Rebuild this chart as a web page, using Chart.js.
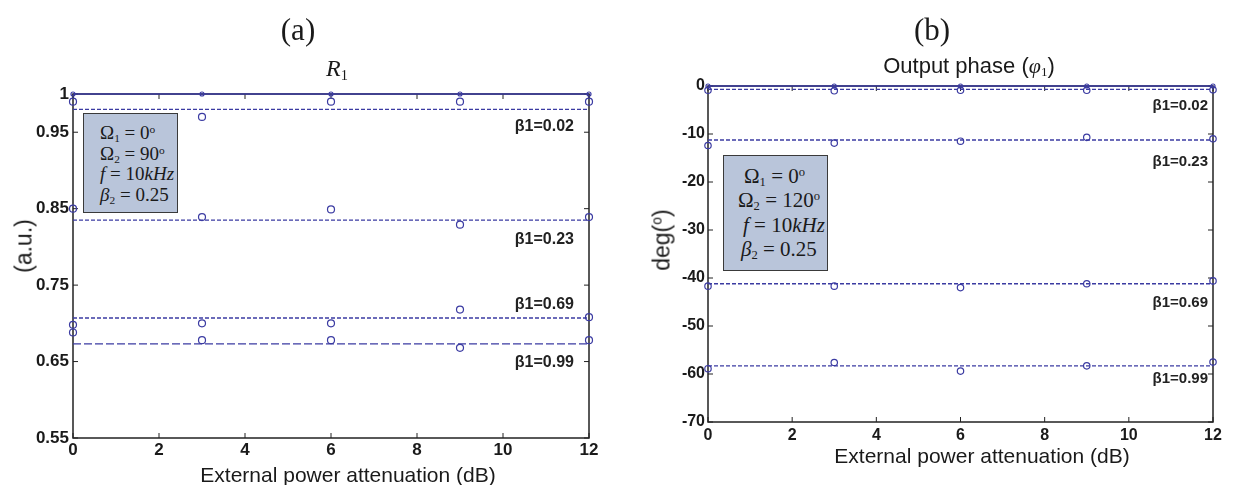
<!DOCTYPE html>
<html>
<head>
<meta charset="utf-8">
<script src="https://cdn.jsdelivr.net/npm/chart.js@4.4.1/dist/chart.umd.min.js"></script>
<style>
  html, body { margin: 0; padding: 0; background: #fff; }
  body { width: 1234px; height: 485px; position: relative; overflow: hidden; }
  canvas { position: absolute; top: 0; }
  #cA { left: 0; }
  #cB { left: 617px; }
  .t { position: absolute; white-space: nowrap; transform: translate(-50%, -50%); color: #1a1a1a; line-height: 1; }
  .serif { font-family: "Liberation Serif", "Times New Roman", serif; }
  .sans { font-family: "Liberation Sans", Arial, sans-serif; }
  .rot { transform: translate(-50%, -50%) rotate(-90deg); }
  .box { position: absolute; box-sizing: border-box; background: #b9c5da; border: 1.5px solid #3a3a3a;
         font-family: "Liberation Serif", "Times New Roman", serif; color: #1a1a1a; white-space: nowrap; }
  sub { font-size: 0.6em; vertical-align: -0.25em; line-height: 0; }
  .deg { font-size: 0.6em; vertical-align: 0.55em; line-height: 0; }
  i { font-style: italic; }
</style>
</head>
<body>
<canvas id="cA" width="617" height="485"></canvas>
<canvas id="cB" width="617" height="485"></canvas>

<div class="t serif" style="left:298px;top:29px;font-size:31px;">(a)</div>
<div class="t serif" style="left:337px;top:68px;font-size:24px;"><i>R</i><sub>1</sub></div>
<div class="t serif" style="left:932px;top:29px;font-size:31px;">(b)</div>
<div class="t sans" style="left:969px;top:66px;font-size:22px;">Output phase (<span class="serif"><i>φ</i><sub>1</sub></span>)</div>
<div class="t sans" style="left:348px;top:474px;font-size:21px;">External power attenuation (dB)</div>
<div class="t sans" style="left:982px;top:455px;font-size:21px;">External power attenuation (dB)</div>
<div class="t sans rot" style="left:24px;top:246px;font-size:23px;">(a.u.)</div>
<div class="t sans rot" style="left:662px;top:240px;font-size:23px;">deg(<span class="deg">o</span>)</div>

<div class="box" style="left:83px;top:113px;width:95px;height:100px;font-size:19px;line-height:20.5px;padding:9px 0 0 16px;">
  <div style="height:20.5px">Ω<sub>1</sub> = 0<span class="deg">o</span></div>
  <div style="height:20.5px">Ω<sub>2</sub> = 90<span class="deg">o</span></div>
  <div style="height:20.5px"><i>f</i> = 10<i>kHz</i></div>
  <div style="height:20.5px"><i>β</i><sub>2</sub> = 0.25</div>
</div>
<div class="box" style="left:723px;top:155px;width:105px;height:116px;font-size:21px;line-height:24.3px;padding:8px 0 0 14px;">
  <div style="height:24.3px;margin-left:6px">Ω<sub>1</sub> = 0<span class="deg">o</span></div>
  <div style="height:24.3px">Ω<sub>2</sub> = 120<span class="deg">o</span></div>
  <div style="height:24.3px;margin-left:5px"><i>f</i> = 10<i>kHz</i></div>
  <div style="height:24.3px;margin-left:3px"><i>β</i><sub>2</sub> = 0.25</div>
</div>

<script>
// ---------------- DATA ----------------
const attenuation = [0, 3, 6, 9, 12];
const betaLabels = ['β1=0.02', 'β1=0.23', 'β1=0.69', 'β1=0.99'];

// (a) R1
const r1Reference = [1, 1, 1, 1, 1];
const r1Beta002 = [0.990, 0.970, 0.990, 0.990, 0.990];
const r1Beta023 = [0.850, 0.839, 0.849, 0.829, 0.839];
const r1Beta069 = [0.698, 0.700, 0.700, 0.718, 0.708];
const r1Beta099 = [0.688, 0.678, 0.678, 0.668, 0.678];
const r1Fit = [0.980, 0.835, 0.707, 0.673];
const r1Ticks = [0.55, 0.65, 0.75, 0.85, 0.95, 1];

// (b) Output phase
const phReference = [0, 0, 0, 0, 0];
const phBeta002 = [-0.9, -1.0, -0.9, -0.9, -0.8];
const phBeta023 = [-12.4, -11.9, -11.5, -10.7, -11.0];
const phBeta069 = [-41.7, -41.7, -42.0, -41.2, -40.6];
const phBeta099 = [-58.9, -57.6, -59.4, -58.3, -57.5];
const phFit = [-0.7, -11.25, -41.2, -58.3];
const phTicks = [-70, -60, -50, -40, -30, -20, -10, 0];
const xTicks = [0, 2, 4, 6, 8, 10, 12];

// ---------------- STYLE / LAYOUT ----------------
const BLUE = '#3b3ba2';
const AXIS = '#222';

function pts(vals) { return vals.map((v, i) => ({ x: attenuation[i], y: v })); }
function flat(v) { return [{ x: attenuation[0], y: v }, { x: attenuation[attenuation.length - 1], y: v }]; }

function buildDatasets(ref, series, fits, dashes, rCircle) {
  const ds = [];
  ds.push({ data: pts(ref), borderColor: BLUE, borderWidth: 1.5, pointRadius: 2, pointBorderWidth: 1.2,
            pointBackgroundColor: 'rgba(0,0,0,0)', pointBorderColor: BLUE, showLine: true, clip: false });
  fits.forEach((f, k) => ds.push({ data: flat(f), borderColor: BLUE, borderWidth: 1.3, borderDash: dashes[k],
            pointRadius: 0, showLine: true, clip: false }));
  series.forEach(s => ds.push({ data: pts(s), showLine: false, pointRadius: rCircle, pointBorderWidth: 1.2,
            pointBorderColor: BLUE, pointBackgroundColor: 'rgba(0,0,0,0)', clip: false }));
  return ds;
}

const framePlugin = {
  id: 'frame',
  beforeDatasetsDraw(chart) {
    const { ctx, chartArea: a, scales } = chart;
    const L = 5;
    ctx.save();
    ctx.strokeStyle = AXIS; ctx.lineWidth = 1.5;
    ctx.strokeRect(a.left, a.top, a.right - a.left, a.bottom - a.top);
    ctx.lineWidth = 1;
    ctx.beginPath();
    scales.x.ticks.forEach(t => {
      const px = scales.x.getPixelForValue(t.value);
      ctx.moveTo(px, a.bottom); ctx.lineTo(px, a.bottom - L);
      ctx.moveTo(px, a.top); ctx.lineTo(px, a.top + L);
    });
    scales.y.ticks.forEach(t => {
      const py = scales.y.getPixelForValue(t.value);
      ctx.moveTo(a.left, py); ctx.lineTo(a.left + L, py);
      ctx.moveTo(a.right, py); ctx.lineTo(a.right - L, py);
    });
    ctx.stroke();
    ctx.restore();
  }
};

const labelPlugin = {
  id: 'betaLabels',
  afterDatasetsDraw(chart, args, opts) {
    const { ctx, chartArea: a, scales } = chart;
    ctx.save();
    ctx.font = 'bold ' + opts.size + 'px "Liberation Sans", Arial, sans-serif';
    ctx.fillStyle = '#222';
    ctx.textAlign = 'right';
    ctx.textBaseline = 'middle';
    opts.fits.forEach((f, k) => {
      ctx.fillText(betaLabels[k], a.right - opts.inset, scales.y.getPixelForValue(f) + opts.dy[k]);
    });
    ctx.restore();
  }
};

function makeChart(id, cfg) {
  return new Chart(document.getElementById(id), {
    type: 'scatter',
    data: { datasets: cfg.datasets },
    plugins: [framePlugin, labelPlugin],
    options: {
      responsive: false, animation: false, devicePixelRatio: 1,
      layout: { padding: cfg.padding },
      plugins: { legend: { display: false }, tooltip: { enabled: false },
                 betaLabels: { fits: cfg.fits, dy: cfg.dy, inset: cfg.inset, size: cfg.labelSize } },
      scales: {
        x: {
          type: 'linear', min: 0, max: 12,
          afterBuildTicks: s => { s.ticks = xTicks.map(v => ({ value: v })); },
          afterFit: s => { s.height = cfg.xh; },
          grid: { display: false, drawTicks: false }, border: { display: false },
          ticks: { padding: cfg.xpad, color: '#1a1a1a', maxRotation: 0,
                   font: { family: '"Liberation Sans", Arial, sans-serif', weight: 'bold', size: cfg.tickSize } }
        },
        y: {
          type: 'linear', min: cfg.ymin, max: cfg.ymax,
          afterBuildTicks: s => { s.ticks = cfg.yTicks.map(v => ({ value: v })); },
          afterFit: s => { s.width = cfg.yw; },
          grid: { display: false, drawTicks: false }, border: { display: false },
          ticks: { padding: cfg.ypad, color: '#1a1a1a', callback: v => String(v),
                   font: { family: '"Liberation Sans", Arial, sans-serif', weight: 'bold', size: cfg.tickSize } }
        }
      }
    }
  });
}

makeChart('cA', {
  datasets: buildDatasets(r1Reference, [r1Beta002, r1Beta023, r1Beta069, r1Beta099], r1Fit,
                          [[4, 2], [4, 2], [4, 2], [8, 3]], 3.5),
  fits: r1Fit, dy: [17, 19, -13, 19], inset: 15, labelSize: 16,
  padding: { left: 0, top: 94, right: 28, bottom: 0 },
  xh: 47, yw: 73, xpad: 2, ypad: 4, tickSize: 17,
  ymin: 0.55, ymax: 1, yTicks: r1Ticks
});

makeChart('cB', {
  datasets: buildDatasets(phReference, [phBeta002, phBeta023, phBeta069, phBeta099], phFit,
                          [[4, 2], [4, 2], [4, 2], [4, 2]], 3.2),
  fits: phFit, dy: [16, 22, 19, 13], inset: 5, labelSize: 15,
  padding: { left: 0, top: 86, right: 21, bottom: 0 },
  xh: 63, yw: 91, xpad: 4, ypad: 3, tickSize: 16,
  ymin: -70, ymax: 0, yTicks: phTicks
});
</script>
</body>
</html>
